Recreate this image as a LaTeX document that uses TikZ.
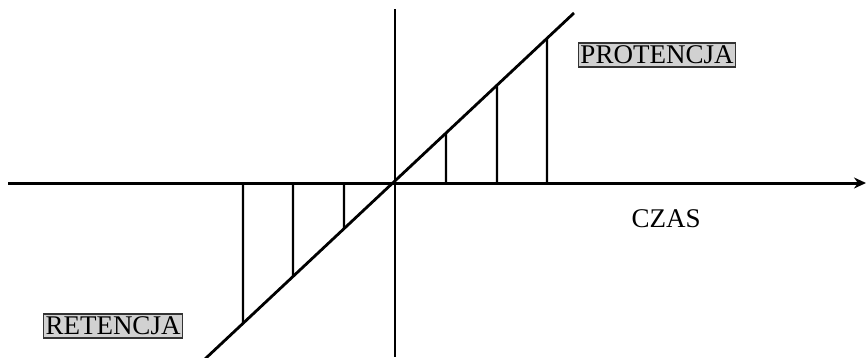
\documentclass[tikz,border=0pt]{standalone}
\usepackage{fontspec}
\setmainfont{Liberation Serif}
\usetikzlibrary{arrows.meta}
\begin{document}
\begin{tikzpicture}[x=1pt,y=-1pt,
  axis/.style={line width=3pt,-{Stealth[length=12pt,width=11pt]}},
  vaxis/.style={line width=2.2pt},
  diag/.style={line width=2.8pt},
  tick/.style={line width=2.4pt},
  lbl/.style={font=\fontsize{27}{30}\selectfont, inner sep=0pt},
  boxlbl/.style={lbl, fill=black!18, draw=black!80, line width=1.2pt, inner xsep=2pt, inner ysep=3pt}]
\useasboundingbox (0,0) rectangle (867,357);
\fill[white] (0,0) rectangle (867,357);
% axes
\coordinate (hx0) at (8,183);
\coordinate (hx1) at (866,183);
\coordinate (vy0) at (395,9);
\coordinate (vy1) at (395,357);
\draw[axis] (hx0) -- (hx1);
\draw[vaxis] (vy0) -- (vy1);
% diagonal
\coordinate (d0) at (205,359);
\coordinate (d1) at (574,13);
\draw[diag] (d0) -- (d1);
% verticals
\foreach \n/\x in {a/243,b/293,c/344,e/446,f/497,g/547}{
  \coordinate (p\n) at (\x,183);
  \coordinate (q\n) at (\x,0);
  \coordinate (t\n) at (intersection of d0--d1 and p\n--q\n);
  \draw[tick] (p\n) -- (t\n);
}
% labels
\node[boxlbl] (prot) at (657,55) {PROTENCJA};
\node[boxlbl] (ret) at (113,326) {RETENCJA};
\node[lbl] (czas) at (666,219) {CZAS};
\end{tikzpicture}
\end{document}
